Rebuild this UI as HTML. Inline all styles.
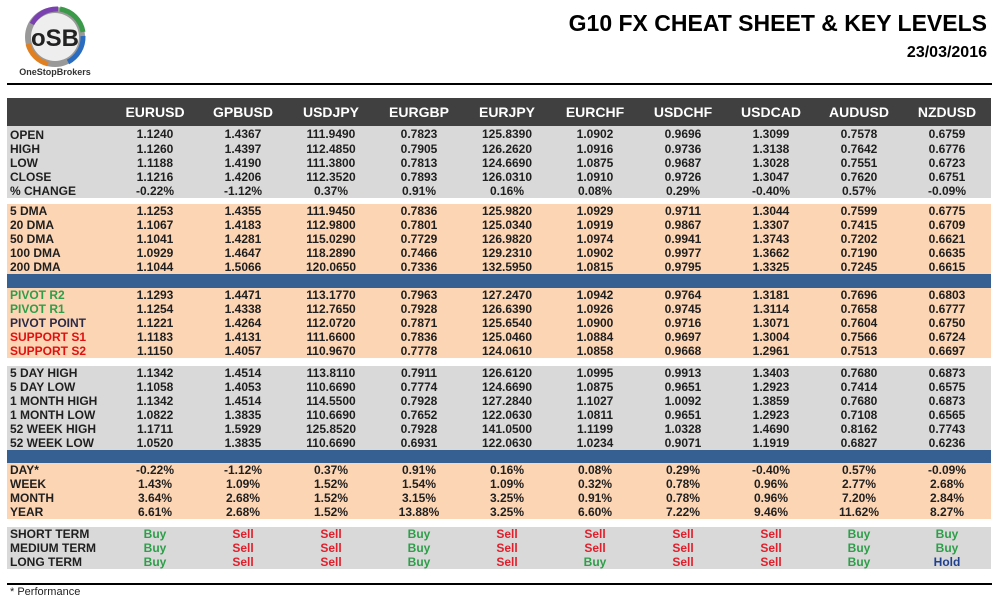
<!DOCTYPE html>
<html><head><meta charset="utf-8">
<style>
body{margin:0;width:999px;height:603px;background:#fff;position:relative;overflow:hidden;font-family:"Liberation Sans",Arial,sans-serif;}
.t{position:absolute;right:12px;font-weight:bold;color:#000;}
.hl{position:absolute;left:7px;width:985px;height:2px;background:#000;}
table{position:absolute;left:7px;border-collapse:collapse;table-layout:fixed;width:984px;font-weight:bold;font-size:12px;color:#1f1f1f;}
td{padding:0;height:14px;line-height:14px;text-align:center;white-space:nowrap;overflow:hidden;}
td:first-child{text-align:left;padding-left:3px;}
.g{background:#d9d9d9}.p{background:#fcd5b4}
.hd td{background:#404040;color:#fff;font-size:14px;height:28px;}
.bl{position:absolute;left:7px;width:984px;background:#366092;}
.gr{color:#2e9e4a}.rd{color:#e01010}.sl{color:#e0202c}.bu{color:#2e9e4a}.hb{color:#1f3f8f}
</style></head><body>
<svg style="position:absolute;left:18px;top:4px" width="80" height="78" viewBox="0 0 80 78">
<circle cx="37" cy="33" r="30" fill="#999"/>
<path d="M14 20 A28 28 0 0 1 40 5" stroke="#7a3fb0" stroke-width="5" fill="none"/>
<path d="M42 5 A28 28 0 0 1 65 28" stroke="#3a9a4a" stroke-width="5" fill="none"/>
<path d="M65 32 A28 28 0 0 1 50 58" stroke="#2a6cc0" stroke-width="5" fill="none"/>
<path d="M30 60 A28 28 0 0 1 10 40" stroke="#e08020" stroke-width="5" fill="none"/>
<circle cx="37" cy="33" r="24" fill="#eee"/>
<text x="37" y="42" text-anchor="middle" font-family="Liberation Sans" font-weight="bold" font-size="24" fill="#222">oSB</text>
<text x="37" y="71" text-anchor="middle" font-family="Liberation Sans" font-weight="bold" font-size="9" fill="#333">OneStopBrokers</text>
</svg>
<div class="t" style="top:10px;font-size:23px;">G10 FX CHEAT SHEET &amp; KEY LEVELS</div>
<div class="t" style="top:44px;font-size:16px;">23/03/2016</div>
<div class="hl" style="top:83px"></div>

<table style="top:98px">
<colgroup><col style="width:104px"><col span="10" style="width:88px"></colgroup>
<tr class="hd"><td></td><td>EURUSD</td><td>GPBUSD</td><td>USDJPY</td><td>EURGBP</td><td>EURJPY</td><td>EURCHF</td><td>USDCHF</td><td>USDCAD</td><td>AUDUSD</td><td>NZDUSD</td></tr>
<tr class="g"><td style="height:15px;padding-top:1px">OPEN</td><td>1.1240</td><td>1.4367</td><td>111.9490</td><td>0.7823</td><td>125.8390</td><td>1.0902</td><td>0.9696</td><td>1.3099</td><td>0.7578</td><td>0.6759</td></tr>
<tr class="g"><td>HIGH</td><td>1.1260</td><td>1.4397</td><td>112.4850</td><td>0.7905</td><td>126.2620</td><td>1.0916</td><td>0.9736</td><td>1.3138</td><td>0.7642</td><td>0.6776</td></tr>
<tr class="g"><td>LOW</td><td>1.1188</td><td>1.4190</td><td>111.3800</td><td>0.7813</td><td>124.6690</td><td>1.0875</td><td>0.9687</td><td>1.3028</td><td>0.7551</td><td>0.6723</td></tr>
<tr class="g"><td>CLOSE</td><td>1.1216</td><td>1.4206</td><td>112.3520</td><td>0.7893</td><td>126.0310</td><td>1.0910</td><td>0.9726</td><td>1.3047</td><td>0.7620</td><td>0.6751</td></tr>
<tr class="g"><td style="height:14px">% CHANGE</td><td>-0.22%</td><td>-1.12%</td><td>0.37%</td><td>0.91%</td><td>0.16%</td><td>0.08%</td><td>0.29%</td><td>-0.40%</td><td>0.57%</td><td>-0.09%</td></tr>
</table>

<table style="top:204px">
<colgroup><col style="width:104px"><col span="10" style="width:88px"></colgroup>
<tr class="p"><td>5 DMA</td><td>1.1253</td><td>1.4355</td><td>111.9450</td><td>0.7836</td><td>125.9820</td><td>1.0929</td><td>0.9711</td><td>1.3044</td><td>0.7599</td><td>0.6775</td></tr>
<tr class="p"><td>20 DMA</td><td>1.1067</td><td>1.4183</td><td>112.9800</td><td>0.7801</td><td>125.0340</td><td>1.0919</td><td>0.9867</td><td>1.3307</td><td>0.7415</td><td>0.6709</td></tr>
<tr class="p"><td>50 DMA</td><td>1.1041</td><td>1.4281</td><td>115.0290</td><td>0.7729</td><td>126.9820</td><td>1.0974</td><td>0.9941</td><td>1.3743</td><td>0.7202</td><td>0.6621</td></tr>
<tr class="p"><td>100 DMA</td><td>1.0929</td><td>1.4647</td><td>118.2890</td><td>0.7466</td><td>129.2310</td><td>1.0902</td><td>0.9977</td><td>1.3662</td><td>0.7190</td><td>0.6635</td></tr>
<tr class="p"><td>200 DMA</td><td>1.1044</td><td>1.5066</td><td>120.0650</td><td>0.7336</td><td>132.5950</td><td>1.0815</td><td>0.9795</td><td>1.3325</td><td>0.7245</td><td>0.6615</td></tr>
</table>
<div class="bl" style="top:274px;height:14px"></div>

<table style="top:288px">
<colgroup><col style="width:104px"><col span="10" style="width:88px"></colgroup>
<tr class="p"><td class="gr">PIVOT R2</td><td>1.1293</td><td>1.4471</td><td>113.1770</td><td>0.7963</td><td>127.2470</td><td>1.0942</td><td>0.9764</td><td>1.3181</td><td>0.7696</td><td>0.6803</td></tr>
<tr class="p"><td class="gr">PIVOT R1</td><td>1.1254</td><td>1.4338</td><td>112.7650</td><td>0.7928</td><td>126.6390</td><td>1.0926</td><td>0.9745</td><td>1.3114</td><td>0.7658</td><td>0.6777</td></tr>
<tr class="p"><td style="color:#2a2a4a">PIVOT POINT</td><td>1.1221</td><td>1.4264</td><td>112.0720</td><td>0.7871</td><td>125.6540</td><td>1.0900</td><td>0.9716</td><td>1.3071</td><td>0.7604</td><td>0.6750</td></tr>
<tr class="p"><td class="rd">SUPPORT S1</td><td>1.1183</td><td>1.4131</td><td>111.6600</td><td>0.7836</td><td>125.0460</td><td>1.0884</td><td>0.9697</td><td>1.3004</td><td>0.7566</td><td>0.6724</td></tr>
<tr class="p"><td class="rd">SUPPORT S2</td><td>1.1150</td><td>1.4057</td><td>110.9670</td><td>0.7778</td><td>124.0610</td><td>1.0858</td><td>0.9668</td><td>1.2961</td><td>0.7513</td><td>0.6697</td></tr>
</table>

<table style="top:366px">
<colgroup><col style="width:104px"><col span="10" style="width:88px"></colgroup>
<tr class="g"><td>5 DAY HIGH</td><td>1.1342</td><td>1.4514</td><td>113.8110</td><td>0.7911</td><td>126.6120</td><td>1.0995</td><td>0.9913</td><td>1.3403</td><td>0.7680</td><td>0.6873</td></tr>
<tr class="g"><td>5 DAY LOW</td><td>1.1058</td><td>1.4053</td><td>110.6690</td><td>0.7774</td><td>124.6690</td><td>1.0875</td><td>0.9651</td><td>1.2923</td><td>0.7414</td><td>0.6575</td></tr>
<tr class="g"><td>1 MONTH HIGH</td><td>1.1342</td><td>1.4514</td><td>114.5500</td><td>0.7928</td><td>127.2840</td><td>1.1027</td><td>1.0092</td><td>1.3859</td><td>0.7680</td><td>0.6873</td></tr>
<tr class="g"><td>1 MONTH LOW</td><td>1.0822</td><td>1.3835</td><td>110.6690</td><td>0.7652</td><td>122.0630</td><td>1.0811</td><td>0.9651</td><td>1.2923</td><td>0.7108</td><td>0.6565</td></tr>
<tr class="g"><td>52 WEEK HIGH</td><td>1.1711</td><td>1.5929</td><td>125.8520</td><td>0.7928</td><td>141.0500</td><td>1.1199</td><td>1.0328</td><td>1.4690</td><td>0.8162</td><td>0.7743</td></tr>
<tr class="g"><td>52 WEEK LOW</td><td>1.0520</td><td>1.3835</td><td>110.6690</td><td>0.6931</td><td>122.0630</td><td>1.0234</td><td>0.9071</td><td>1.1919</td><td>0.6827</td><td>0.6236</td></tr>
</table>
<div class="bl" style="top:450px;height:13px"></div>

<table style="top:463px">
<colgroup><col style="width:104px"><col span="10" style="width:88px"></colgroup>
<tr class="p"><td>DAY*</td><td>-0.22%</td><td>-1.12%</td><td>0.37%</td><td>0.91%</td><td>0.16%</td><td>0.08%</td><td>0.29%</td><td>-0.40%</td><td>0.57%</td><td>-0.09%</td></tr>
<tr class="p"><td>WEEK</td><td>1.43%</td><td>1.09%</td><td>1.52%</td><td>1.54%</td><td>1.09%</td><td>0.32%</td><td>0.78%</td><td>0.96%</td><td>2.77%</td><td>2.68%</td></tr>
<tr class="p"><td>MONTH</td><td>3.64%</td><td>2.68%</td><td>1.52%</td><td>3.15%</td><td>3.25%</td><td>0.91%</td><td>0.78%</td><td>0.96%</td><td>7.20%</td><td>2.84%</td></tr>
<tr class="p"><td>YEAR</td><td>6.61%</td><td>2.68%</td><td>1.52%</td><td>13.88%</td><td>3.25%</td><td>6.60%</td><td>7.22%</td><td>9.46%</td><td>11.62%</td><td>8.27%</td></tr>
</table>

<table style="top:527px">
<colgroup><col style="width:104px"><col span="10" style="width:88px"></colgroup>
<tr class="g"><td>SHORT TERM</td><td class="bu">Buy</td><td class="sl">Sell</td><td class="sl">Sell</td><td class="bu">Buy</td><td class="sl">Sell</td><td class="sl">Sell</td><td class="sl">Sell</td><td class="sl">Sell</td><td class="bu">Buy</td><td class="bu">Buy</td></tr>
<tr class="g"><td>MEDIUM TERM</td><td class="bu">Buy</td><td class="sl">Sell</td><td class="sl">Sell</td><td class="bu">Buy</td><td class="sl">Sell</td><td class="sl">Sell</td><td class="sl">Sell</td><td class="sl">Sell</td><td class="bu">Buy</td><td class="bu">Buy</td></tr>
<tr class="g"><td>LONG TERM</td><td class="bu">Buy</td><td class="sl">Sell</td><td class="sl">Sell</td><td class="bu">Buy</td><td class="sl">Sell</td><td class="bu">Buy</td><td class="sl">Sell</td><td class="sl">Sell</td><td class="bu">Buy</td><td class="hb">Hold</td></tr>
</table>

<div class="hl" style="top:583px"></div>
<div style="position:absolute;left:10px;top:586px;font-size:11px;color:#222;">* Performance</div>
</body></html>
